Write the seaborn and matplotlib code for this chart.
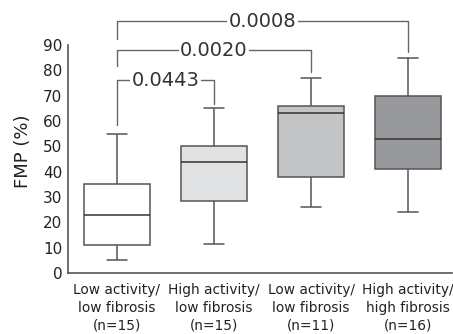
import seaborn as sns
import matplotlib.pyplot as plt
import pandas as pd

# five-number summaries: min, q1, median, q3, max
groups = ['Low activity/\nlow fibrosis\n(n=15)', 'High activity/\nlow fibrosis\n(n=15)',
          'Low activity/\nlow fibrosis\n(n=11)', 'High activity/\nhigh fibrosis\n(n=16)']
g1 = [5, 11, 23, 35, 55]
g2 = [11.5, 28.5, 44, 50, 65]
g3 = [26, 38, 63, 66, 77]
g4 = [24, 41, 53, 70, 85]
colors = ['#ffffff', '#e1e2e4', '#c3c4c6', '#98999c']

# significance brackets: (left group, right group), top, leg ends, label
pairs = [(0, 1), (0, 2), (0, 3)]
tops = [76.2, 88, 99.5]
left_ends = [58.4, 81.7, 92.4]
right_ends = [66.7, 79.3, 87.2]
pvals = ['0.0443', '0.0020', '0.0008']

df = pd.DataFrame({
    'group': [g for g, vals in zip(groups, [g1, g2, g3, g4]) for _ in vals],
    'fmp': g1 + g2 + g3 + g4,
})

sns.set_style('white')
plt.rcParams['font.family'] = ['DejaVu Sans']

fig = plt.figure(figsize=(4.53, 3.34), dpi=100)
ax = fig.add_axes([0.150, 0.1826, 0.848, 0.7734])

line = '#555555'
sns.boxplot(data=df, x='group', y='fmp', hue='group', palette=colors, saturation=1,
            width=0.68, whis=(0, 100), showfliers=False, linecolor=line, linewidth=1.1,
            legend=False, ax=ax, capwidths=0.21,
            medianprops={'color': '#333333', 'linewidth': 1.1})

for (a, b), top, le, re, p in zip(pairs, tops, left_ends, right_ends, pvals):
    ax.plot([a, a, b, b], [le, top, top, re], color='#666666', lw=1.0, clip_on=False)
    ax.text((a + b) / 2, top, p, ha='center', va='center', fontsize=14, color='#333333',
            bbox=dict(facecolor='white', edgecolor='none', pad=1.0))

ax.set_xlim(-0.505, 3.454)
ax.set_ylim(0, 102)
ax.set_yticks(range(0, 91, 10))
ax.spines['left'].set_bounds(0, 90)
for s in ['top', 'right']:
    ax.spines[s].set_visible(False)
for s in ['left', 'bottom']:
    ax.spines[s].set_color(line)
    ax.spines[s].set_linewidth(1.2)
ax.tick_params(axis='y', direction='in', length=5, width=1.1, color=line,
               labelsize=11, labelcolor='#222222', pad=4)
ax.tick_params(axis='x', direction='in', length=5, width=1.1, color=line,
               labelsize=9.9, labelcolor='#222222', pad=7)
for lbl in ax.get_xticklabels():
    lbl.set_linespacing(1.35)
ax.set_xlabel('')
ax.set_ylabel('FMP (%)', fontsize=13, color='#222222', va='center')
ax.yaxis.set_label_coords(-0.118, 0.472)

fig.savefig('out.png', dpi=100)
